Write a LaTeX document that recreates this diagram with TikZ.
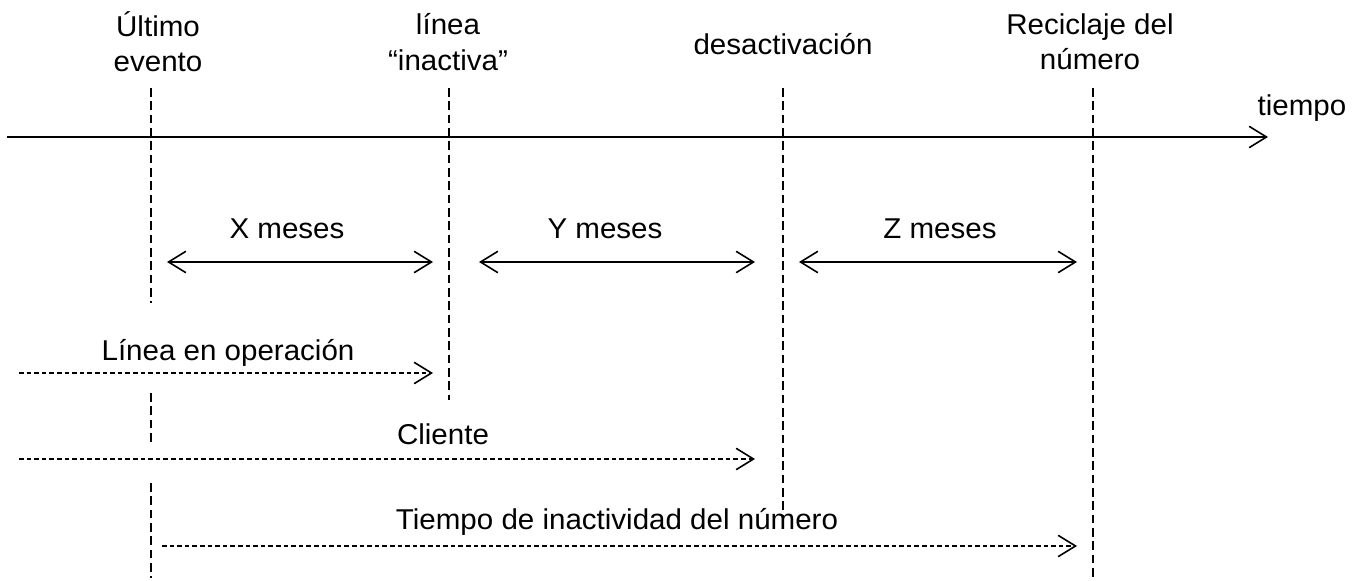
\documentclass[tikz,border=0pt]{standalone}
\usepackage{fontspec}
\setmainfont{Liberation Sans}[FakeStretch=1.03]
\usetikzlibrary{arrows.meta,
                calc}

\begin{document}
\begin{tikzpicture}[x=0.75pt,y=-0.75pt]
                % define styles
\tikzset{barb/.style={-{Straight Barb[length=13pt,width=16pt,line width=1.2pt]}},
         axis/.style={draw=black,
                      line width=1.2pt,
                      barb},
         marker/.style={draw=black,
                        line width=1.2pt,
                        dash pattern=on 6.5pt off 3.5pt},
         span/.style={draw=black,
                      line width=1.2pt,
                      {Straight Barb[length=13pt,width=16pt,line width=1.2pt]}-{Straight Barb[length=13pt,width=16pt,line width=1.2pt]}},
         period/.style={draw=black,
                        line width=1.2pt,
                        dash pattern=on 3.5pt off 2.2pt,
                        barb},
         lbl/.style={font=\fontsize{21.5}{26.5}\selectfont,
                     align=center,
                     inner sep=0}
}

\useasboundingbox (0,0) rectangle (1361,581);

% time axis
\coordinate (t0) at (7,137);
\coordinate (t1) at (1268,137);
\draw[axis] (t0) -- (t1);
\node[lbl] (tiempo) at (1302,108) {tiempo};

% event marks
\foreach \name/\x in {ult/151, lin/449, des/783, rec/1093}
    \coordinate (\name) at (\x,88);

\draw[marker] (ult) -- ++(0,215);
\draw[marker] (151,393) -- ++(0,50);
\draw[marker] (151,483) -- ++(0,95);
\draw[marker] (lin) -- ++(0,312);
\draw[marker] (des) -- ++(0,439);
\draw[marker] (rec) -- ++(0,490);

% event labels
\node[lbl] (ult-l) at (158,42) {Último\\evento};
\node[lbl] (lin-l) at (448,42) {línea\\“inactiva”};
\node[lbl] (des-l) at (783,44) {desactivación};
\node[lbl] (rec-l) at (1090,42) {Reciclaje del\\número};

% month spans
\foreach \name/\a/\b/\mx/\txt in {x/167/433/287/X, y/479/755/605/Y, z/799/1077/940/Z}{
    \coordinate (\name-a) at (\a,262);
    \coordinate (\name-b) at (\b,262);
    \draw[span] (\name-a) -- (\name-b);
    \node[lbl] (\name-l) at (\mx,229) {\txt{} meses};
}

% periods
\coordinate (op-a) at (19,373);
\coordinate (op-b) at (433,373);
\draw[period] (op-a) -- (op-b);
\node[lbl] (op-l) at (228,353) {Línea en operación};

\coordinate (cl-a) at (19,459);
\coordinate (cl-b) at (755,459);
\draw[period] (cl-a) -- (cl-b);
\node[lbl] (cl-l) at (443,434) {Cliente};

\coordinate (in-a) at (162,546);
\coordinate (in-b) at (1077,546);
\draw[period] (in-a) -- (in-b);
\node[lbl] (in-l) at (617,522) {Tiempo de inactividad del número};

\end{tikzpicture}
\end{document}
